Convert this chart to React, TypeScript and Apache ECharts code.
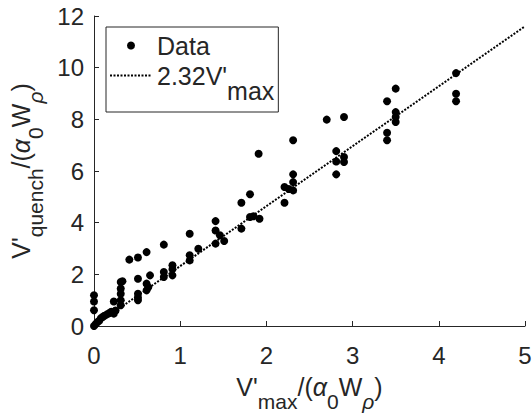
import React, { useEffect, useRef } from "react";
import * as echarts from "echarts";

const pointsX = [
  0, 0, 0,
  0, 0.02, 0.04, 0.06, 0.08, 0.1, 0.12, 0.15, 0.18, 0.2, 0.23, 0.23, 0.25,
  0.31, 0.31, 0.31, 0.31, 0.31, 0.33,
  0.41,
  0.51, 0.51, 0.51, 0.51, 0.51,
  0.61, 0.65, 0.61, 0.61, 0.63,
  0.81, 0.81, 0.81, 0.91, 0.91, 0.91,
  1.11, 1.11, 1.11, 1.21,
  1.41, 1.41, 1.41, 1.46, 1.51,
  1.71, 1.71, 1.81, 1.81, 1.85, 1.92, 1.91,
  2.21, 2.21, 2.31, 2.31, 2.31, 2.31, 2.26,
  2.7, 2.81, 2.81, 2.81, 2.9, 2.9, 2.9,
  3.4, 3.4, 3.4, 3.5, 3.5, 3.5, 3.5,
  4.2, 4.2, 4.2,
];
const pointsY = [
  1.19, 0.95, 0.61,
  0.0, 0.08, 0.15, 0.2, 0.3, 0.35, 0.4, 0.45, 0.5, 0.55, 0.95, 0.48, 0.6,
  1.45, 1.7, 1.25, 1.0, 0.8, 1.73,
  2.57,
  2.65, 1.83, 1.25, 1.0, 1.1,
  2.86, 1.96, 1.64, 1.38, 1.5,
  3.15, 2.09, 1.9, 2.35, 2.2, 1.96,
  3.57, 2.74, 2.54, 2.99,
  4.06, 3.7, 3.19, 3.51, 3.29,
  4.77, 3.77, 5.1, 4.22, 4.25, 4.15, 6.67,
  4.77, 5.38, 7.19, 5.87, 5.57, 5.25, 5.3,
  7.99, 6.77, 6.37, 5.87, 8.09, 6.54, 6.35,
  8.7, 7.48, 7.19, 9.19, 8.28, 8.09, 7.9,
  9.79, 8.99, 8.7,
];
const fitX = [0, 5];
const fitY = [0, 11.6];
const xTicks = [0, 1, 2, 3, 4, 5];
const yTicks = [0, 2, 4, 6, 8, 10, 12];
const seriesNames = ["Data", "fit"];

const TXT = "#262626";
const FONT = "Arial, 'Liberation Sans', Helvetica, sans-serif";

const makeRich = (subPad: number) => ({
  m: { fontSize: 25, color: TXT, fontFamily: FONT },
  g: { fontSize: 25, color: TXT, fontFamily: FONT, fontStyle: "italic" },
  s: { fontSize: 21, color: TXT, fontFamily: FONT, padding: [subPad, 0, 0, 0] },
  si: { fontSize: 21, color: TXT, fontFamily: FONT, fontStyle: "italic", padding: [subPad, 0, 0, 0] },
});
const legendRich = {
  m: { fontSize: 25, color: TXT, fontFamily: FONT },
  s: { fontSize: 25, color: TXT, fontFamily: FONT, padding: [30, 0, 0, 0] },
};

export default function App() {
  const ref = useRef<HTMLDivElement>(null);
  useEffect(() => {
    if (!ref.current) return;
    const chart = echarts.init(ref.current, null, { renderer: "svg" });
    const scatterData = pointsX.map((x, i) => [x, pointsY[i]]);
    const lineData = fitX.map((x, i) => [x, fitY[i]]);
    chart.setOption({
      animation: false,
      backgroundColor: "#ffffff",
      grid: { left: 94, right: 7, top: 16, bottom: 91, outerBoundsMode: "none", containLabel: false },
      legend: {
        left: 106,
        top: 27,
        orient: "vertical",
        borderColor: TXT,
        borderWidth: 1,
        padding: [6, 4, 9, 3],
        itemGap: 5,
        itemWidth: 42,
        itemHeight: 8,
        data: [
          { name: seriesNames[0], icon: "circle" },
          { name: seriesNames[1], itemStyle: { opacity: 0 } },
        ],
        formatter: (name: string) =>
          name === "fit" ? "{m|2.32V'}{s|max}" : "{m|" + name + "}",
        textStyle: { fontSize: 25, color: TXT, fontFamily: FONT, rich: legendRich },
      },
      xAxis: {
        type: "value",
        min: xTicks[0],
        max: xTicks[xTicks.length - 1],
        interval: 1,
        splitLine: { show: false },
        axisLine: { lineStyle: { color: TXT, width: 1 } },
        axisTick: { inside: true, length: 5, lineStyle: { color: TXT } },
        axisLabel: { fontSize: 24, color: TXT, fontFamily: FONT, margin: 17 },
        name: "{m|V'}{s|max}{m|/(}{g|α}{s|0}{m|W}{si|ρ}{m|)}",
        nameLocation: "middle",
        nameGap: 35,
        nameTextStyle: { rich: makeRich(30) },
      },
      yAxis: {
        type: "value",
        min: yTicks[0],
        max: yTicks[yTicks.length - 1],
        interval: 2,
        splitLine: { show: false },
        axisLine: { show: true, lineStyle: { color: TXT, width: 1 } },
        axisTick: { show: true, inside: true, length: 5, lineStyle: { color: TXT } },
        axisLabel: { fontSize: 24, color: TXT, fontFamily: FONT, margin: 10 },
        name: "{m|V'}{s|quench}{m|/(}{g|α}{s|0}{m|W}{si|ρ}{m|)}",
        nameLocation: "middle",
        nameGap: 44,
        nameRotate: 90,
        nameTextStyle: { rich: makeRich(29) },
      },
      series: [
        {
          name: seriesNames[0],
          type: "scatter",
          data: scatterData,
          symbol: "circle",
          symbolSize: 8,
          itemStyle: { color: "#000000", opacity: 1 },
          z: 3,
        },
        {
          name: seriesNames[1],
          type: "line",
          data: lineData,
          showSymbol: false,
          symbol: "none",
          lineStyle: { color: "#000000", width: 2, type: [2, 1.5] },
          itemStyle: { color: "#000000" },
          z: 2,
        },
      ],
    });
    return () => chart.dispose();
  }, []);
  return <div ref={ref} style={{ width: 532, height: 417, position: "absolute", left: 0, top: 0 }} />;
}
